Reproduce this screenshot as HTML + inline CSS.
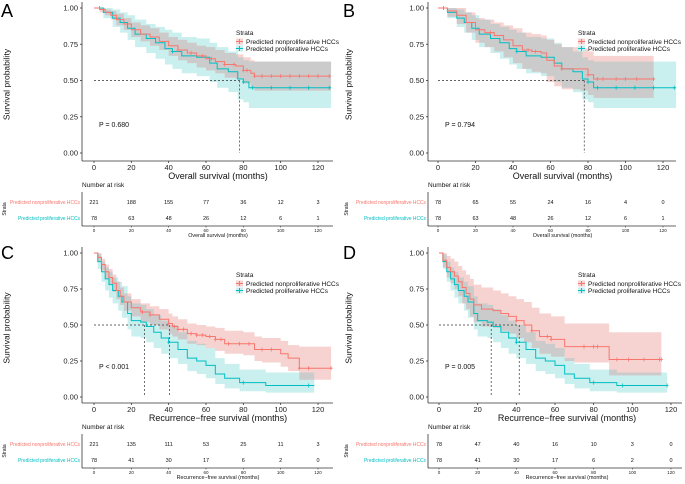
<!DOCTYPE html>
<html><head><meta charset="utf-8"><style>
html,body{margin:0;padding:0;background:#fff}
svg{display:block;font-family:"Liberation Sans",sans-serif}
</style></head><body>
<svg id="fig" width="685" height="484" viewBox="0 0 685 484"></svg>
<script>
// ---- data ----
// Panel A
const aRedT=[0,3,6,9,12,16,20,25,30,35,40,45,50,55,60,65,70,76,80,84,86,127];
const aRedS=[1,.99,.97,.95,.92,.89,.85,.82,.80,.77,.74,.71,.69,.67,.65,.63,.61,.60,.57,.55,.53,.53];
const aRedLo=[1,.97,.95,.92,.88,.85,.80,.77,.74,.71,.67,.64,.62,.59,.57,.55,.52,.51,.48,.45,.43,.43];
const aRedHi=[1,1,.99,.98,.96,.93,.90,.88,.86,.83,.80,.78,.76,.74,.73,.71,.69,.68,.66,.64,.63,.63];
const aTealT=[0,5,10,14,18,22,28,33,38,42,47,55,62,66,72,77,80,83,127];
const aTealS=[1,.97,.93,.90,.86,.82,.79,.76,.72,.70,.67,.66,.62,.58,.56,.51,.49,.45,.45];
const aTealLo=[1,.93,.87,.83,.78,.73,.69,.65,.61,.58,.55,.53,.49,.45,.42,.37,.35,.31,.31];
const aTealHi=[1,1,.99,.97,.95,.92,.89,.87,.85,.83,.80,.79,.76,.73,.70,.66,.64,.63,.63];
// Panel B
const bRedT=[0,5,10,15,20,25,30,35,40,45,50,55,58,62,66,70,76,80,83,88,115];
const bRedS=[1,.98,.95,.90,.85,.83,.81,.78,.74,.71,.70,.69,.64,.60,.58,.58,.58,.54,.51,.51,.51];
const bRedLo=[1,.94,.89,.83,.76,.73,.70,.66,.62,.58,.56,.55,.49,.46,.44,.44,.43,.40,.38,.38,.38];
const bRedHi=[1,1,1,.97,.93,.92,.90,.88,.86,.83,.82,.81,.78,.75,.73,.73,.72,.70,.67,.67,.67];
// Panel C
const cRedT=[0,2,4,6,8,10,12,14,16,20,25,30,35,40,42,45,50,55,60,65,70,80,86,90,100,104,110,127];
const cRedS=[1,.97,.92,.87,.83,.79,.74,.70,.66,.62,.59,.57,.54,.51,.49,.47,.44,.43,.42,.40,.37,.37,.33,.33,.30,.27,.20,.20];
const cRedLo=[1,.94,.88,.82,.78,.73,.68,.64,.60,.56,.52,.50,.47,.44,.42,.40,.37,.36,.34,.32,.30,.29,.25,.24,.21,.18,.12,.12];
const cRedHi=[1,1,.96,.92,.89,.85,.80,.76,.72,.68,.65,.63,.61,.58,.56,.54,.51,.50,.49,.48,.46,.45,.42,.41,.39,.36,.35,.35];
const cTealT=[0,2,4,6,8,10,13,15,18,20,25,28,32,36,40,45,50,55,60,65,70,78,85,92,118];
const cTealS=[1,.94,.87,.82,.78,.74,.70,.66,.58,.53,.52,.49,.45,.41,.38,.33,.27,.25,.22,.16,.13,.10,.10,.08,.08];
const cTealLo=[1,.89,.80,.74,.69,.65,.60,.55,.47,.42,.41,.38,.34,.30,.27,.23,.18,.16,.13,.09,.06,.04,.04,.03,.03];
const cTealHi=[1,.99,.94,.90,.87,.83,.80,.77,.70,.65,.64,.61,.57,.53,.50,.45,.39,.37,.34,.27,.23,.19,.19,.17,.17];
// Panel D
const dRedT=[0,2,4,6,8,10,12,14,16,18,22,28,32,36,40,44,48,52,58,65,70,80,87,88,115];
const dRedS=[1,.95,.90,.87,.84,.80,.76,.72,.68,.64,.61,.60,.58,.56,.53,.50,.46,.42,.40,.35,.35,.35,.35,.26,.26];
const dRedLo=[1,.90,.83,.79,.75,.70,.65,.61,.56,.52,.49,.48,.46,.44,.41,.38,.34,.30,.28,.25,.24,.24,.24,.15,.15];
const dRedHi=[1,1,.98,.96,.94,.91,.88,.85,.82,.78,.76,.74,.72,.70,.68,.66,.62,.58,.56,.51,.51,.51,.51,.45,.45];
// censor marks (months)
const aRedCens=[45,52,58,63,70,75,80,82,86,90,95,100,105,110,115,120,126];
const aTealCens=[3,42,80,85,95,105,115,126];
const bRedCens=[22,28,48,52,66,80,85,88,95,100,106,115];
const bTealCens=[3,42,80,85,95,105,115,126];
const cRedCens=[26,30,40,43,45,48,52,55,58,62,65,68,72,78,83,90,95,110,115,127];
const cTealCens=[40,80,115];
const dRedCens=[40,48,56,58,75,80,82,92,98,106,114,115];
const dTealCens=[40,80,95,118];
// risk table
const riskTimes=[0,20,40,60,80,100,120];
const aRiskRed=[221,188,155,77,36,12,3];
const aRiskTeal=[78,63,48,26,12,6,1];
const bRiskRed=[78,65,55,24,16,4,0];
const bRiskTeal=[78,63,48,26,12,6,1];
const cRiskRed=[221,135,111,53,25,11,3];
const cRiskTeal=[78,41,30,17,6,2,0];
const dRiskRed=[78,47,40,16,10,3,0];
const dRiskTeal=[78,41,30,17,6,2,0];
const yTicks=[0,0.25,0.5,0.75,1];
const yTickLabels=["0.00","0.25","0.50","0.75","1.00"];
const xTicks=[0,20,40,60,80,100,120];
const aMedians=[78];
const bMedians=[78];
const cMedians=[27,40.5];
const dMedians=[27,41.5];

const RED="#F8766D",TEAL="#00BFC4";
const svg=document.getElementById('fig');
const NS="http://www.w3.org/2000/svg";
function mk(tag,attrs,parent){const e=document.createElementNS(NS,tag);for(const k in attrs)e.setAttribute(k,attrs[k]);(parent||svg).appendChild(e);return e;}
function txt(x,y,s,size,anchor,fill,parent){const t=mk('text',{x:x,y:y,'font-size':size,'text-anchor':anchor||'start',fill:fill||'#000'},parent);t.textContent=s;return t;}

const panels=[
 {id:'a',L:'A',yAx:82,x0:94,x120:318,y1:8,y0:153,xAxY:161,xEnd:333,off:0,ox:0,
  red:[aRedT,aRedS,aRedLo,aRedHi],teal:[aTealT,aTealS,aTealLo,aTealHi],rc:aRedCens,tc:aTealCens,
  rr:aRiskRed,rt:aRiskTeal,med:aMedians,p:"P = 0.680",title:"Overall survival (months)"},
 {id:'b',L:'B',yAx:428,x0:438,x120:663,y1:8,y0:153,xAxY:161,xEnd:676,off:0,ox:342,
  red:[bRedT,bRedS,bRedLo,bRedHi],teal:[aTealT,aTealS,aTealLo,aTealHi],rc:bRedCens,tc:bTealCens,
  rr:bRiskRed,rt:bRiskTeal,med:bMedians,p:"P = 0.794",title:"Overall survival (months)"},
 {id:'c',L:'C',yAx:82,x0:94,x120:318,y1:253,y0:397,xAxY:403,xEnd:333,off:242,ox:0,
  red:[cRedT,cRedS,cRedLo,cRedHi],teal:[cTealT,cTealS,cTealLo,cTealHi],rc:cRedCens,tc:cTealCens,
  rr:cRiskRed,rt:cRiskTeal,med:cMedians,p:"P < 0.001",title:"Recurrence\u2212free survival (months)"},
 {id:'d',L:'D',yAx:428,x0:439,x120:671,y1:253,y0:397,xAxY:403,xEnd:682,off:242,ox:342,
  red:[dRedT,dRedS,dRedLo,dRedHi],teal:[cTealT,cTealS,cTealLo,cTealHi],rc:dRedCens,tc:dTealCens,
  rr:dRiskRed,rt:dRiskTeal,med:dMedians,p:"P = 0.005",title:"Recurrence\u2212free survival (months)"}
];

function stepPath(T,S,X,Y){let d=`M${X(T[0])},${Y(S[0])}`;for(let i=1;i<T.length;i++){d+=`H${X(T[i])}V${Y(S[i])}`;}return d;}
function bandPath(T,Lo,Hi,X,Y){let d=`M${X(T[0])},${Y(Hi[0])}`;for(let i=1;i<T.length;i++)d+=`H${X(T[i])}V${Y(Hi[i])}`;
 d+=`V${Y(Lo[T.length-1])}`;for(let i=T.length-1;i>0;i--)d+=`H${X(T[i])}V${Y(Lo[i-1])}`;d+=`H${X(T[0])}Z`;return d;}
function stepVal(T,S,t){let v=S[0];for(let i=0;i<T.length;i++){if(T[i]<=t)v=S[i];}return v;}

panels.forEach(P=>{
 const g=mk('g',{});
 
 
 const X=t=>P.x0+(P.x120-P.x0)*t/120;
 const Y=s=>P.y0-(P.y0-P.y1)*s;
 const l=txt(P.ox+1,P.off+17,P.L,18,'start','#000',g);
 
 
 const cid='clip-'+P.id;
 const cp=mk('clipPath',{id:cid},g);
 mk('path',{d:bandPath(P.red[0],P.red[2],P.red[3],X,Y)},cp);
 const tb=mk('path',{d:bandPath(P.teal[0],P.teal[2],P.teal[3],X,Y),fill:'#c9efee'},g);
 
 
 const rb=mk('path',{d:bandPath(P.red[0],P.red[2],P.red[3],X,Y),fill:'#f6d3d0'},g);
 
 
 const ov=mk('path',{d:bandPath(P.teal[0],P.teal[2],P.teal[3],X,Y),fill:'#cbcbcb','clip-path':`url(#${cid})`},g);
 
 
 const mmax=Math.max(...P.med);
 const mh=mk('line',{x1:X(0),x2:X(mmax),y1:Y(.5),y2:Y(.5),stroke:'#333','stroke-width':0.7,'stroke-dasharray':'2,2'},g);
 
 
 P.med.forEach(m=>{const v=mk('line',{x1:X(m),x2:X(m),y1:Y(.5),y2:Y(0),stroke:'#333','stroke-width':0.7,'stroke-dasharray':'2,2'},g);
  
  });
 [[P.teal,TEAL,P.tc,'proliferative'],[P.red,RED,P.rc,'nonproliferative']].forEach(([c,col,cens,nm])=>{
  const p=mk('path',{d:stepPath(c[0],c[1],X,Y),fill:'none',stroke:col,'stroke-width':1},g);
  
  
  cens.forEach(t=>{const y=Y(stepVal(c[0],c[1],t));
   const m=mk('path',{d:`M${X(t)},${y-2}V${y+2}M${X(t)-1.5},${y}H${X(t)+1.5}`,stroke:col,'stroke-width':0.8},g);
   
   });
 });
 const ya=mk('line',{x1:P.yAx,x2:P.yAx,y1:P.y1-6,y2:P.xAxY,stroke:'#333','stroke-width':0.8},g);
 
 
 const xa=mk('line',{x1:P.yAx,x2:P.xEnd,y1:P.xAxY,y2:P.xAxY,stroke:'#333','stroke-width':0.8},g);
 
 
 yTicks.forEach((v,i)=>{mk('line',{x1:P.yAx-2,x2:P.yAx,y1:Y(v),y2:Y(v),stroke:'#333','stroke-width':0.8},g);
  const t=txt(P.yAx-4,Y(v)+2.7,yTickLabels[i],7.5,'end','#222',g);
  
  });
 xTicks.forEach(v=>{mk('line',{x1:X(v),x2:X(v),y1:P.xAxY,y2:P.xAxY+2,stroke:'#333','stroke-width':0.8},g);
  const t=txt(X(v),P.xAxY+9,String(v),7.5,'middle','#222',g);
  
  });
 const xt=txt((P.x0+P.x120)/2+12,P.xAxY+18,P.title,9,'middle','#111',g);
 
 
 const ytx=P.ox+7,yty=(P.y1+P.xAxY)/2;
 const yt=txt(ytx,yty,'Survival probability',8.5,'middle','#111',g);
 yt.setAttribute('transform',`rotate(-90 ${ytx} ${yty})`);
 yt.setAttribute('dominant-baseline','middle');
 
 
 const pv=txt(P.yAx+17,P.off+127,P.p,7,'start','#111',g);
 
 
 const lx=P.ox+236,ly=P.off+35;
 const lg=mk('g',{},g);
 
 
 txt(lx,ly,'Strata',6.5,'start','#111',lg);
 [[RED,'Predicted nonproliferative HCCs','#f6d3d0',93],[TEAL,'Predicted proliferative HCCs','#c9efee',82]].forEach(([c,s,f,w],i)=>{
  const yy=ly+9+i*7;
  const e=mk('g',{},lg);
  
  
  mk('rect',{x:lx,y:yy-5.5,width:7,height:6,fill:f},e);
  mk('path',{d:`M${lx},${yy-2.5}H${lx+7}M${lx+3.5},${yy-5}V${yy}`,stroke:c,'stroke-width':1},e);
  const tt=txt(lx+10,yy,s,6.6,'start','#111',e);
  tt.setAttribute('textLength',w);
  tt.setAttribute('lengthAdjust','spacingAndGlyphs');
 });
 const rt=mk('g',{},g);
 
 
 const ro=P.off;
 txt(P.yAx,ro+187,'Number at risk',6.5,'start','#111',rt);
 const r1=ro+202,r2=ro+218,rax=ro+226;
 mk('line',{x1:P.yAx,x2:P.yAx,y1:ro+192,y2:rax,stroke:'#333','stroke-width':0.8},rt);
 mk('line',{x1:P.yAx,x2:P.xEnd,y1:rax,y2:rax,stroke:'#333','stroke-width':0.8},rt);
 const sx=P.ox+6,sy=ro+209;
 const st=txt(sx,sy,'Strata',5,'middle','#111',rt);
 st.setAttribute('transform',`rotate(-90 ${sx} ${sy})`);
 const t1=txt(P.yAx-2,r1+1.8,'Predicted nonproliferative HCCs',5.3,'end',RED,rt);
 t1.setAttribute('textLength',70);
 t1.setAttribute('lengthAdjust','spacingAndGlyphs');
 const t2=txt(P.yAx-2,r2+1.8,'Predicted proliferative HCCs',5.3,'end',TEAL,rt);
 t2.setAttribute('textLength',62);
 t2.setAttribute('lengthAdjust','spacingAndGlyphs');
 riskTimes.forEach((t,i)=>{
  txt(X(t),r1+2,String(P.rr[i]),5.5,'middle','#111',rt);
  txt(X(t),r2+2,String(P.rt[i]),5.5,'middle','#111',rt);
  mk('line',{x1:X(t),x2:X(t),y1:rax,y2:rax+1.5,stroke:'#333','stroke-width':0.6},rt);
  txt(X(t),rax+6,String(t),4.5,'middle','#222',rt);
 });
 txt((P.x0+P.x120)/2+12,rax+11,P.title,5.4,'middle','#111',rt);
});
</script>
</body></html>
